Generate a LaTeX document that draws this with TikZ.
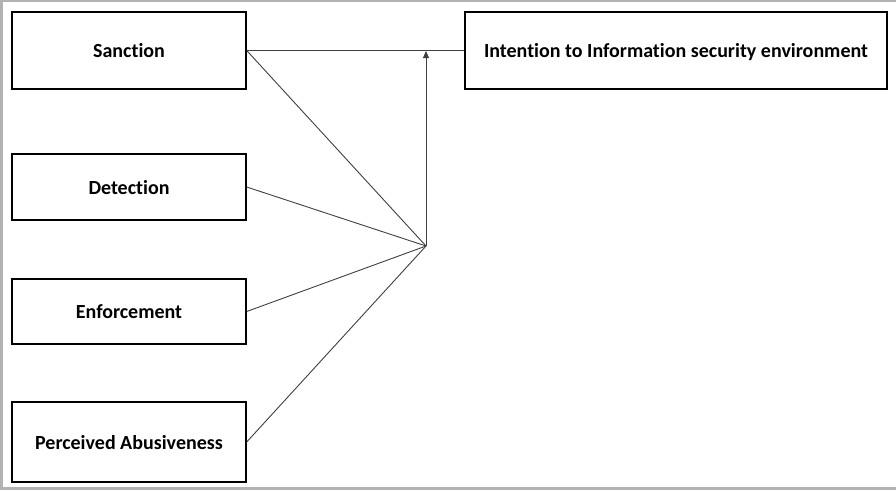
\documentclass[tikz,border=0pt]{standalone}
\usepackage{fontspec}
\setmainfont[Ligatures=NoCommon]{Carlito}
\usetikzlibrary{arrows.meta}
\begin{document}
\begin{tikzpicture}[x=1pt,y=-1pt,
  box/.style={draw=black,line width=1.4pt,minimum width=234pt,minimum height=77pt,font=\bfseries\fontsize{20}{24}\selectfont,inner sep=0pt,text depth=0pt},
  link/.style={draw=black!75,line width=0.9pt}]
\fill[white] (0,0) rectangle (896,490);
\fill[black!30] (0,0) rectangle (896,2);
\fill[black!30] (0,0) rectangle (3,490);
\fill[black!30] (0,487) rectangle (896,490);
\useasboundingbox (0,0) rectangle (896,490);
\node[box] (s) at (129,50.5) {Sanction};
\node[box,minimum height=66pt] (d) at (129,187) {Detection};
\node[box,minimum height=65pt] (e) at (129,311.5) {Enforcement};
\node[box,minimum height=80pt] (p) at (129,442) {Perceived Abusiveness};
\node[box,minimum width=422pt] (i) at (676,50.5) {Intention to Information security environment};
\coordinate (c) at (426,246);
\coordinate (t) at (426,51);
\draw[link] (s.east) -- (i.west);
\draw[link] (s.east) -- (c);
\draw[link] (d.east) -- (c);
\draw[link] (e.east) -- (c);
\draw[link] (p.east) -- (c);
\draw[link,-{Triangle[length=7pt,width=6pt]}] (c) -- (t);
\end{tikzpicture}
\end{document}
